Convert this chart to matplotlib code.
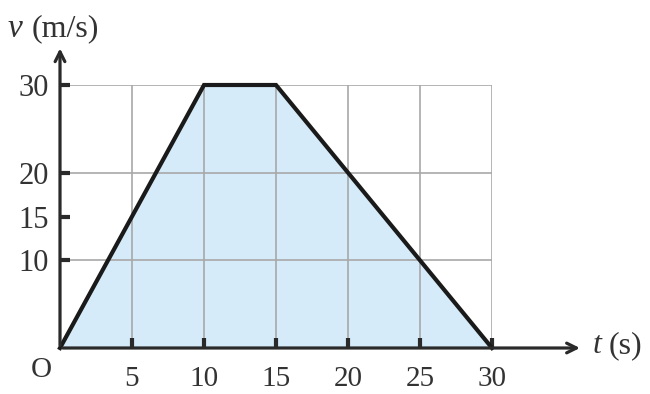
import matplotlib
matplotlib.use('agg')
import matplotlib.pyplot as plt

# datos del grafico v-t
tiempos = [0, 10, 15, 30]
velocidades = [0, 30, 30, 0]
ticks_x = [5, 10, 15, 20, 25, 30]
ticks_y = [10, 15, 20, 30]
grilla_x = [5, 10, 15, 20, 25, 30]
grilla_y = [10, 20, 30]

plt.rcParams['font.family'] = ['Liberation Serif', 'DejaVu Serif']

fig = plt.figure(figsize=(6.5, 3.94), dpi=100)
ax = fig.add_axes([60 / 650, 46 / 394, 432 / 650, 263 / 394])
ax.set_xlim(0, 30)
ax.set_ylim(0, 30)

for gx in grilla_x:
    ax.axvline(gx, color='#a8a8a8', lw=1.2, zorder=1)
for gy in grilla_y:
    ax.axhline(gy, color='#a8a8a8', lw=1.2, zorder=1)

ax.fill_between(tiempos, velocidades, color='#d5ebf9', zorder=0)
ax.plot(tiempos, velocidades, color='#1a1a1a', lw=3, solid_joinstyle='miter',
        clip_on=False, zorder=4)

for lado in ['top', 'right', 'left', 'bottom']:
    ax.spines[lado].set_visible(False)

# ejes con flechas
ax.annotate('', xy=(36.3, 0), xytext=(0, 0), xycoords='data',
            arrowprops=dict(arrowstyle='->,head_length=0.7,head_width=0.35',
                            color='#2a2a2a', lw=2.3), annotation_clip=False, zorder=5)
ax.annotate('', xy=(0, 34.5), xytext=(0, 0), xycoords='data',
            arrowprops=dict(arrowstyle='->,head_length=0.7,head_width=0.35',
                            color='#2a2a2a', lw=2.3), annotation_clip=False, zorder=5)

ax.set_xticks(ticks_x)
ax.set_yticks(ticks_y)
ax.tick_params(direction='in', length=7, width=3, color='#2a2a2a',
               labelcolor='#333333')
ax.tick_params(axis='x', pad=13, labelsize=21)
ax.tick_params(axis='y', pad=8, labelsize=22)

ax.text(-0.55, -1.0, 'O', fontsize=21, color='#333333', ha='right', va='top')
ax.text(37.0, 0.3, 't', fontsize=23, style='italic', color='#333333', ha='left', va='center')
ax.text(38.1, 0.3, '(s)', fontsize=23, color='#333333', ha='left', va='center')
ax.text(-3.65, 36.4, 'v', fontsize=24, style='italic', color='#333333', ha='left', va='center')
ax.text(-1.95, 36.4, '(m/s)', fontsize=23, color='#333333', ha='left', va='center')

fig.savefig('out.png', dpi=100)
